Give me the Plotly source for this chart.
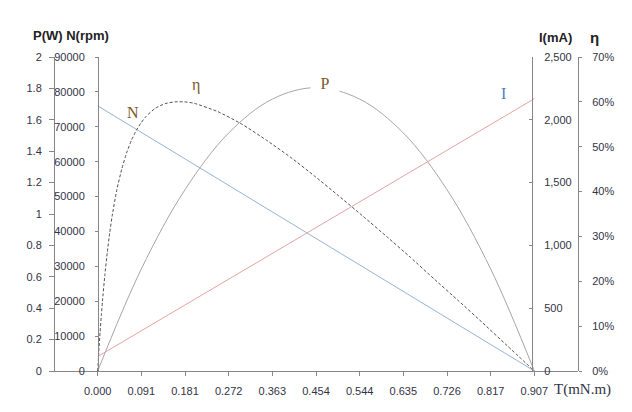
import plotly.graph_objects as go

# ---- data ----
x_ticks = [0.000, 0.0907, 0.1814, 0.2721, 0.3628, 0.4535, 0.5442, 0.6349, 0.7256, 0.8163, 0.907]
x_ticktext = ["0.000", "0.091", "0.181", "0.272", "0.363", "0.454", "0.544", "0.635", "0.726", "0.817", "0.907"]

torque = [0.000, 0.0907, 0.1814, 0.2721, 0.3628, 0.4535, 0.5442, 0.6349, 0.7256, 0.8163, 0.907]
speed_rpm = [76000, 68400, 60800, 53200, 45600, 38000, 30400, 22800, 15200, 7600, 0]
current_ma = [115, 320, 526, 731, 936, 1142, 1347, 1552, 1757, 1963, 2168]
power_w = [0.0, 0.650, 1.155, 1.516, 1.732, 1.805, 1.732, 1.516, 1.155, 0.650, 0.0]

eff_torque = [0.000, 0.0025, 0.005, 0.0075, 0.010, 0.015, 0.020, 0.025, 0.030, 0.040,
              0.050, 0.060, 0.070, 0.080, 0.090, 0.100, 0.120, 0.140, 0.160, 0.180,
              0.200, 0.250, 0.300, 0.350, 0.400, 0.450, 0.500, 0.550, 0.600, 0.650,
              0.700, 0.750, 0.800, 0.850, 0.907]
efficiency = [0.000, 0.045, 0.086, 0.123, 0.156, 0.215, 0.265, 0.308, 0.345, 0.405,
              0.450, 0.486, 0.514, 0.536, 0.553, 0.567, 0.586, 0.596, 0.600, 0.600,
              0.597, 0.578, 0.550, 0.515, 0.477, 0.435, 0.391, 0.346, 0.300, 0.253,
              0.204, 0.156, 0.107, 0.057, 0.000]

# ---- figure ----
# page has an 8px body margin, so the figure is drawn at screen offset (8, 8)
OFF = 8
W, H = 624, 404
L, R, T, B = 46, 54, 49, 41
pw = W - L - R
ph = H - T - B

def px(xs):
    return (xs - OFF - L) / pw

def py(ys):
    return (H - B - (ys - OFF)) / ph

axis_col = "#868686"
tick_font = dict(family="Liberation Sans, Arial, sans-serif", size=11, color="#333344")

fig = go.Figure()
fig.add_trace(go.Scatter(x=torque, y=speed_rpm, yaxis="y2", mode="lines",
                         line=dict(color="#95b3d7", width=1), hoverinfo="skip"))
fig.add_trace(go.Scatter(x=torque, y=current_ma, yaxis="y3", mode="lines",
                         line=dict(color="#e6a3a3", width=1), hoverinfo="skip"))
fig.add_trace(go.Scatter(x=torque, y=power_w, yaxis="y", mode="lines",
                         line=dict(color="#a6a6a6", width=1, shape="spline", smoothing=1),
                         hoverinfo="skip"))
fig.add_trace(go.Scatter(x=eff_torque, y=efficiency, yaxis="y4", mode="lines",
                         line=dict(color="#505050", width=1, dash="3px,2px", shape="spline", smoothing=0.5),
                         hoverinfo="skip"))

fig.update_layout(
    width=W, height=H,
    margin=dict(l=L, r=R, t=T, b=B, autoexpand=False),
    paper_bgcolor="white", plot_bgcolor="white",
    showlegend=False,
    xaxis=dict(domain=[0, 1], range=[-0.0907, 0.9977], tickvals=x_ticks, ticktext=x_ticktext,
               showgrid=False, zeroline=False, showline=True, linecolor=axis_col, linewidth=1,
               ticks="outside", ticklen=4, tickcolor=axis_col, tickfont=tick_font,
               ticklabelstandoff=6),
    yaxis=dict(range=[0, 2], dtick=0.2, anchor="free", position=0, side="left",
               showgrid=False, zeroline=False, showline=True, linecolor=axis_col, linewidth=1,
               ticks="outside", ticklen=5, tickcolor=axis_col, tickfont=tick_font,
               ticklabelstandoff=5),
    yaxis2=dict(range=[0, 90000], dtick=10000, tickformat="d", overlaying="y", anchor="free",
                position=px(98), side="left",
                showgrid=False, zeroline=False, showline=True, linecolor=axis_col, linewidth=1,
                ticks="outside", ticklen=3, tickcolor=axis_col, tickfont=tick_font,
                ticklabelstandoff=8),
    yaxis3=dict(range=[0, 2500], dtick=500, tickformat=",d", overlaying="y", anchor="free",
                position=px(532), side="right",
                showgrid=False, zeroline=False, showline=True, linecolor=axis_col, linewidth=1,
                ticks="inside", ticklen=3, tickcolor=axis_col, tickfont=tick_font,
                ticklabelstandoff=9),
    yaxis4=dict(range=[0, 0.7], dtick=0.1, tickformat=".0%", overlaying="y", anchor="free",
                position=1.0, side="right",
                showgrid=False, zeroline=False, showline=True, linecolor=axis_col, linewidth=1,
                ticks="outside", ticklen=3, tickcolor=axis_col, tickfont=tick_font,
                ticklabelstandoff=8),
)

serif = "Liberation Serif, Times New Roman, serif"
lab_col = "#7a5a28"
annos = [
    dict(text="N", x=px(133), y=py(113), font=dict(family=serif, size=16, color=lab_col)),
    dict(text="η", x=px(196), y=py(85), font=dict(family=serif, size=16, color=lab_col)),
    dict(text="P", x=px(325), y=py(83), font=dict(family=serif, size=16, color=lab_col),
         bgcolor="white", width=26),
    dict(text="I", x=px(503), y=py(93), font=dict(family=serif, size=16, color="#4f81bd")),
    dict(text="<b>P(W) N(rpm)</b>", x=px(71), y=py(35),
         font=dict(family="Liberation Sans, Arial, sans-serif", size=13, color="#222222")),
    dict(text="<b>I(mA)</b>", x=px(555), y=py(37),
         font=dict(family="Liberation Sans, Arial, sans-serif", size=13, color="#222222")),
    dict(text="<b>η</b>", x=px(594), y=py(38),
         font=dict(family="Liberation Sans, Arial, sans-serif", size=15, color="#222222")),
    dict(text="T(mN.m)", x=px(582), y=py(389),
         font=dict(family=serif, size=15, color="#333344")),
]
for a in annos:
    a.update(xref="paper", yref="paper", showarrow=False, xanchor="center", yanchor="middle")
    fig.add_annotation(**a)

fig.write_html("out.html")
